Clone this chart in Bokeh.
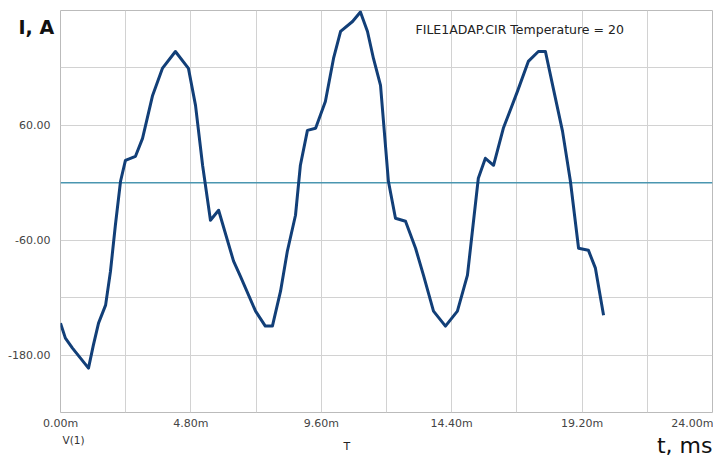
from bokeh.plotting import figure
from bokeh.models import Range1d, FixedTicker, Label, Title
from bokeh.embed import file_html
from bokeh.resources import INLINE

# time in ms, current in A
t_ms = [0.0, 0.18, 0.44, 1.03, 1.21, 1.40, 1.66, 1.84, 2.02, 2.21, 2.39, 2.76, 3.02, 3.39,
        3.75, 4.23, 4.71, 4.97, 5.23, 5.52, 5.82, 6.37, 6.62, 7.18, 7.54, 7.80, 8.10, 8.35,
        8.65, 8.83, 9.09, 9.39, 9.75, 10.05, 10.31, 10.75, 11.04, 11.30, 11.52, 11.78, 12.07,
        12.33, 12.70, 13.07, 13.36, 13.73, 14.17, 14.61, 14.98, 15.38, 15.64, 15.94, 16.30,
        16.82, 17.22, 17.59, 17.85, 18.14, 18.48, 18.77, 19.07, 19.43, 19.69, 19.99]
current_a = [-146.6, -162.3, -172.7, -193.6, -169.6, -146.6, -127.8, -92.4, -44.4, 1.6, 23.5,
             27.7, 46.4, 91.3, 119.5, 137.2, 119.5, 80.9, 18.3, -39.1, -28.7, -81.9, -97.6,
             -134.1, -149.7, -149.7, -113.2, -71.5, -33.9, 18.3, 54.8, 56.9, 85.0, 129.9,
             158.1, 168.5, 178.5, 158.1, 129.9, 101.7, 1.6, -37.0, -40.2, -68.4, -96.5, -134.1,
             -149.7, -134.1, -96.5, 4.7, 25.6, 18.3, 56.9, 95.5, 126.8, 137.2, 137.2, 98.6,
             53.7, 1.6, -68.4, -70.4, -89.2, -138.3]
zero_t = [0.0, 24.0]
zero_i = [0.0, 0.0]

x_ticks = [0.0, 2.4, 4.8, 7.2, 9.6, 12.0, 14.4, 16.8, 19.2, 21.6, 24.0]
x_tick_labels = ["0.00m", "", "4.80m", "", "9.60m", "", "14.40m", "", "19.20m", "", "24.00m"]
y_ticks = [-240, -180, -120, -60, 0, 60, 120, 180]
y_tick_labels = ["", "-180.00", "", "-60.00", "", "60.00", "", ""]

p = figure(width=713, height=457, output_backend="svg", toolbar_location=None,
           x_range=Range1d(0, 24), y_range=Range1d(-240, 180),
           min_border_left=60, min_border_right=1, min_border_top=10, min_border_bottom=43)

p.outline_line_color = "#bbbbbb"
p.background_fill_color = "white"
p.border_fill_color = "white"

for ax in (p.xaxis[0], p.yaxis[0]):
    ax.axis_line_color = None
    ax.major_tick_line_color = None
    ax.minor_tick_line_color = None
    ax.major_tick_out = 0
    ax.major_tick_in = 0
    ax.major_label_text_font = "DejaVu Sans"
    ax.major_label_text_font_size = "11px"
    ax.major_label_text_color = "#444444"

p.xaxis.ticker = FixedTicker(ticks=x_ticks)
p.xaxis.major_label_overrides = {x: l for x, l in zip(x_ticks, x_tick_labels)}
p.xaxis.major_label_standoff = 4
p.yaxis.ticker = FixedTicker(ticks=y_ticks)
p.yaxis.major_label_overrides = {y: l for y, l in zip(y_ticks, y_tick_labels)}
p.yaxis.major_label_standoff = 10

p.grid.grid_line_color = "#d2d2d2"
p.grid.grid_line_width = 1

p.line(zero_t, zero_i, line_color="#4a96b0", line_width=1.6)
p.line(t_ms, current_a, line_color="#123f78", line_width=3, line_join="round")

p.add_layout(Label(x=355, y=383, x_units="screen", y_units="screen",
                   text="FILE1ADAP.CIR Temperature = 20", text_font="DejaVu Sans",
                   text_font_size="12.5px", text_baseline="middle", text_color="#222222"))

# border texts as titles in the top panel; a large negative standoff gives them no height
# so the frame does not move, and places them lower on the page
def border_text(text, size, standoff, align, offset, style="normal", color="#111111"):
    p.add_layout(Title(text=text, align=align, offset=offset, standoff=standoff,
                       text_font="DejaVu Sans", text_font_size=size,
                       text_font_style=style, text_color=color), "above")

border_text("I, A", "19px", -55, "left", -42, style="bold")
border_text("V(1)", "10.5px", -871, "left", 2, color="#333333")
border_text("t, ms", "22px", -894, "right", 0)

p.add_layout(Title(text="T", align="left", offset=283, text_font="DejaVu Sans",
                   text_font_size="11px", text_font_style="normal", text_color="#222222"), "below")

open("out.html", "w").write(file_html(p, INLINE))
